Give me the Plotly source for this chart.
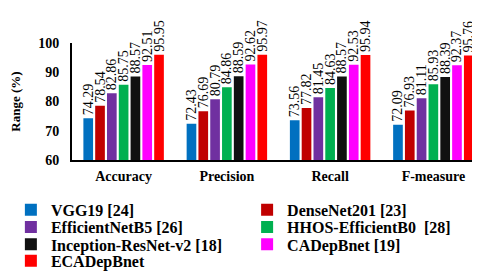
import plotly.graph_objects as go

categories = ["Accuracy", "Precision", "Recall", "F-measure"]
models = ["VGG19 [24]", "DenseNet201 [23]", "EfficientNetB5 [26]", "HHOS-EfficientB0  [28]",
          "Inception-ResNet-v2 [18]", "CADepBnet [19]", "ECADepBnet"]
values = {
    "VGG19 [24]": [74.29, 72.43, 73.56, 72.09],
    "DenseNet201 [23]": [78.54, 76.69, 77.82, 76.93],
    "EfficientNetB5 [26]": [82.86, 80.79, 81.45, 81.11],
    "HHOS-EfficientB0  [28]": [85.75, 84.86, 84.63, 85.93],
    "Inception-ResNet-v2 [18]": [88.57, 88.59, 88.57, 88.39],
    "CADepBnet [19]": [92.51, 92.62, 92.53, 92.37],
    "ECADepBnet": [95.95, 95.97, 95.94, 95.76],
}
colors = ["#0070C0", "#C00000", "#7030A0", "#00B050", "#111111", "#FF00FF", "#FF0000"]

FONT = "Liberation Serif"
row_y = [-0.426, -0.574, -0.721, -0.861]
col_x = [-0.148, 0.424]

fig = go.Figure()
legends = {}
for i, (m, c) in enumerate(zip(models, colors)):
    v = values[m]
    lid = "legend" if i == 0 else f"legend{i + 1}"
    fig.add_trace(go.Bar(
        x=categories, y=v, name=m, marker_color=c, marker_line_width=0,
        text=[f"{x:.2f}" for x in v], textposition="outside", textangle=-90,
        constraintext="none", legend=lid,
        textfont=dict(family=FONT, size=14, color="black"), cliponaxis=False,
    ))
    legends[lid] = dict(orientation="v", x=col_x[i % 2], xanchor="left",
                        y=row_y[i // 2], yanchor="middle",
                        font=dict(family=FONT, size=16, color="black", weight="bold"),
                        itemwidth=30, bgcolor="rgba(0,0,0,0)")

fig.update_layout(
    width=480, height=273, barmode="group", bargap=0.2, bargroupgap=0.18,
    margin=dict(l=56, r=3, t=35, b=116),
    plot_bgcolor="white", paper_bgcolor="white",
    font=dict(family=FONT, color="black"),
    showlegend=True,
    **legends,
)
fig.update_yaxes(range=[60, 100], dtick=10, showgrid=False, showline=True, linecolor="black",
                 linewidth=2, ticks="outside", ticklen=8, tickcolor="rgba(0,0,0,0)",
                 automargin=False,
                 tickfont=dict(family=FONT, size=14, weight="bold"),
                 title=dict(text="Range (%)", font=dict(family=FONT, size=13, weight="bold")))
fig.update_xaxes(showline=True, linecolor="black", linewidth=2, ticks="outside", ticklen=2,
                 automargin=False,
                 tickcolor="rgba(0,0,0,0)", tickfont=dict(family=FONT, size=14, weight="bold"))
fig.write_html("out.html")
